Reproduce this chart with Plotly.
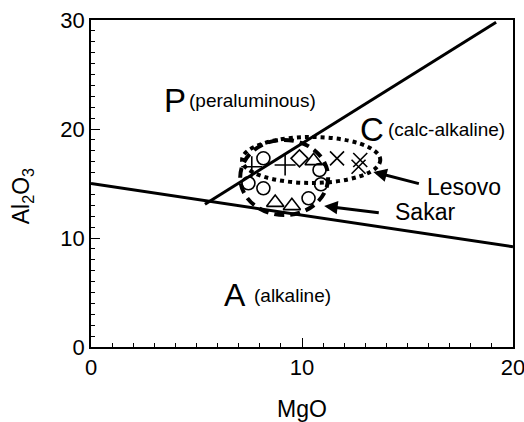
import plotly.graph_objects as go

# Field boundaries of the MgO - Al2O3 discrimination diagram
boundary_low_x = [0.0, 20.0]
boundary_low_y = [15.0, 9.2]
boundary_p_x = [5.4, 19.2]
boundary_p_y = [13.1, 29.8]

# Samples, grouped by symbol
circle_x = [8.17, 7.46, 8.17, 10.31, 10.90, 10.83]
circle_y = [17.31, 15.02, 14.56, 13.64, 14.93, 16.24]
triangle_x = [8.73, 9.52, 10.55]
triangle_y = [13.25, 12.95, 17.08]
plus_x = [7.62, 9.20]
plus_y = [16.54, 16.70]
diamond_x = [9.88]
diamond_y = [17.31]
cross_x = [11.66, 12.76, 12.68]
cross_y = [17.31, 17.16, 16.54]

# Group envelopes: [x0, x1, y0, y1]
sakar_env = [7.07, 11.24, 12.1, 19.0]
lesovo_env = [7.16, 13.71, 15.05, 19.27]

FONT = "Liberation Sans, Arial, sans-serif"

fig = go.Figure()

for bx, by in [(boundary_low_x, boundary_low_y), (boundary_p_x, boundary_p_y)]:
    fig.add_trace(go.Scatter(x=bx, y=by, mode="lines",
                             line=dict(color="black", width=3),
                             showlegend=False, hoverinfo="skip"))

def add_markers(xs, ys, symbol, size):
    fig.add_trace(go.Scatter(
        x=xs, y=ys, mode="markers", showlegend=False,
        marker=dict(symbol=symbol, size=size, color="black",
                    line=dict(color="black", width=1.6))))

add_markers(circle_x, circle_y, "circle-open", 13)
add_markers(triangle_x, triangle_y, "triangle-up-open", 15)
add_markers(plus_x, plus_y, "cross-thin-open", 15)
add_markers(diamond_x, diamond_y, "diamond-open", 13)
add_markers(cross_x, cross_y, "x-thin-open", 14)

# Envelopes around the two sample groups
fig.add_shape(type="circle", xref="x", yref="y",
              x0=sakar_env[0], x1=sakar_env[1], y0=sakar_env[2], y1=sakar_env[3],
              line=dict(color="black", width=4, dash="10px,6px"))
fig.add_shape(type="circle", xref="x", yref="y",
              x0=lesovo_env[0], x1=lesovo_env[1], y0=lesovo_env[2], y1=lesovo_env[3],
              line=dict(color="black", width=4, dash="4px,4px"))

def label(x, y, text, size):
    fig.add_annotation(x=x, y=y, text=text, showarrow=False, xanchor="left",
                       yanchor="middle", font=dict(family=FONT, size=size, color="black"))

label(3.35, 22.6, "P", 33)
label(4.54, 22.66, "(peraluminous)", 19)
label(12.67, 20.0, "C", 33)
label(14.0, 20.0, "(calc-alkaline)", 19)
label(6.2, 4.8, "A", 32)
label(7.62, 4.77, "(alkaline)", 19)
label(15.84, 14.71, "Lesovo", 23)
label(14.31, 12.39, "Sakar", 23)

# Pointers from the group names to their envelopes
for tip, tail in [((13.38, 16.06), (15.61, 14.95)), ((11.05, 12.94), (13.71, 12.29))]:
    fig.add_annotation(x=tip[0], y=tip[1], ax=tail[0], ay=tail[1],
                       xref="x", yref="y", axref="x", ayref="y", text="",
                       showarrow=True, arrowhead=2, arrowsize=0.9, arrowwidth=3,
                       arrowcolor="black")

# Rotated y-axis title
fig.add_annotation(xref="paper", yref="paper", x=-0.162, y=0.46, xanchor="center",
                   yanchor="middle", text="Al<sub>2</sub>O<sub>3</sub>", showarrow=False,
                   textangle=-90, font=dict(family=FONT, size=23, color="black"))

axis_common = dict(showgrid=False, zeroline=False, showline=True, linecolor="black",
                   linewidth=1.5, mirror=True, ticks="inside", ticklen=9, tickwidth=1.2,
                   tickcolor="black", tickfont=dict(family=FONT, size=22, color="black"),
                   automargin=False, ticklabeloverflow="allow")

fig.update_xaxes(range=[0, 20], tickvals=[0, 10, 20],
                 minor=dict(dtick=1, ticks="inside", ticklen=4, tickcolor="black", tickwidth=1.2),
                 title=dict(text="MgO", font=dict(family=FONT, size=23, color="black"), standoff=22),
                 **axis_common)
fig.update_yaxes(range=[0, 30], tickvals=[0, 10, 20, 30],
                 minor=dict(dtick=1, ticks="inside", ticklen=4, tickcolor="black", tickwidth=1.2),
                 **axis_common)

fig.update_layout(width=524, height=422, margin=dict(l=91, r=11, t=20, b=75),
                  paper_bgcolor="white", plot_bgcolor="white",
                  font=dict(family=FONT, color="black"))

fig.write_html("out.html")
